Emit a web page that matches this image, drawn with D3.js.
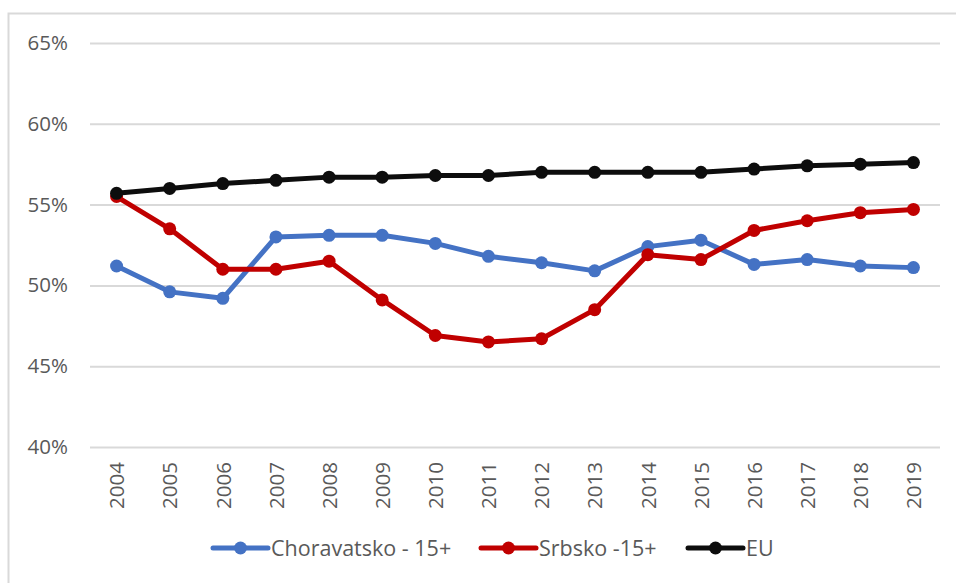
<!DOCTYPE html>
<html>
<head>
<meta charset="utf-8">
<script src="https://cdn.jsdelivr.net/npm/d3@7"></script>
<style>
  body { margin: 0; background: #fff; }
  svg { display: block; font-family: "Open Sans", sans-serif; }
</style>
</head>
<body>
<div id="chart"></div>
<script>
"use strict";

var years = ["2004", "2005", "2006", "2007", "2008", "2009", "2010", "2011",
  "2012", "2013", "2014", "2015", "2016", "2017", "2018", "2019"];
var yTicks = [40, 45, 50, 55, 60, 65];

var chorvatsko = [51.2, 49.6, 49.2, 53.0, 53.1, 53.1, 52.6, 51.8,
  51.4, 50.9, 52.4, 52.8, 51.3, 51.6, 51.2, 51.1];
var srbsko = [55.5, 53.5, 51.0, 51.0, 51.5, 49.1, 46.9, 46.5,
  46.7, 48.5, 51.9, 51.6, 53.4, 54.0, 54.5, 54.7];
var eu = [55.7, 56.0, 56.3, 56.5, 56.7, 56.7, 56.8, 56.8,
  57.0, 57.0, 57.0, 57.0, 57.2, 57.4, 57.5, 57.6];

var seriesNames = ["Choravatsko - 15+", "Srbsko -15+", "EU"];
var seriesColors = ["#4472c4", "#c00000", "#0d0d0d"];

var width = 956, height = 583;
var plot = { left: 90, right: 940, top: 43, bottom: 447 };

var svg = d3.select("#chart").append("svg")
  .attr("width", width)
  .attr("height", height);

// chart frame (only the top and left edges are in view)
svg.append("rect")
  .attr("x", 8.5).attr("y", 13.5)
  .attr("width", 1000).attr("height", 1000)
  .attr("fill", "none")
  .attr("stroke", "#d9d9d9")
  .attr("stroke-width", 2);

var x = d3.scalePoint()
  .domain(years)
  .range([plot.left, plot.right])
  .padding(0.5);

var y = d3.scaleLinear()
  .domain([40, 65])
  .range([plot.bottom, plot.top]);

// y axis + gridlines
var yAxis = svg.append("g")
  .attr("transform", "translate(" + plot.left + ",0)")
  .call(d3.axisLeft(y)
    .tickValues(yTicks)
    .tickSize(-(plot.right - plot.left))
    .tickPadding(22)
    .tickFormat(function(d) { return d + "%"; }));
yAxis.select(".domain").remove();
yAxis.selectAll(".tick line")
  .attr("stroke", "#d9d9d9")
  .attr("stroke-width", 2);
yAxis.selectAll(".tick text")
  .attr("fill", "#595959")
  .attr("font-size", 20.5)
  .attr("font-family", "'Open Sans', sans-serif");

// x axis, rotated year labels
var xAxis = svg.append("g")
  .attr("transform", "translate(0," + plot.bottom + ")")
  .call(d3.axisBottom(x).tickSize(0));
xAxis.select(".domain").remove();
xAxis.selectAll(".tick text")
  .attr("fill", "#595959")
  .attr("font-size", 20.5)
  .attr("font-family", "'Open Sans', sans-serif")
  .attr("text-anchor", "end")
  .attr("transform", "translate(0,15) rotate(-90)")
  .attr("x", 0)
  .attr("y", 0)
  .attr("dy", "0.35em");

var allSeries = [chorvatsko, srbsko, eu];

var line = d3.line()
  .x(function(d, i) { return x(years[i]); })
  .y(function(d) { return y(d); });

allSeries.forEach(function(values, k) {
  var g = svg.append("g");
  g.append("path")
    .datum(values)
    .attr("d", line)
    .attr("fill", "none")
    .attr("stroke", seriesColors[k])
    .attr("stroke-width", 5)
    .attr("stroke-linejoin", "round")
    .attr("stroke-linecap", "round");
  g.selectAll("circle")
    .data(values)
    .enter().append("circle")
    .attr("cx", function(d, i) { return x(years[i]); })
    .attr("cy", function(d) { return y(d); })
    .attr("r", 6.5)
    .attr("fill", seriesColors[k]);
});

// legend
var legendX = [213, 481, 688];
var legendY = 548;
var legend = svg.append("g");
seriesNames.forEach(function(name, k) {
  var lx = legendX[k];
  legend.append("line")
    .attr("x1", lx).attr("x2", lx + 55)
    .attr("y1", legendY).attr("y2", legendY)
    .attr("stroke", seriesColors[k])
    .attr("stroke-width", 5)
    .attr("stroke-linecap", "round");
  legend.append("circle")
    .attr("cx", lx + 27.5).attr("cy", legendY)
    .attr("r", 6.5)
    .attr("fill", seriesColors[k]);
  legend.append("text")
    .attr("x", lx + 58)
    .attr("y", legendY)
    .attr("dy", "0.35em")
    .attr("fill", "#595959")
    .attr("font-size", 21.5)
    .text(name);
});
</script>
</body>
</html>
